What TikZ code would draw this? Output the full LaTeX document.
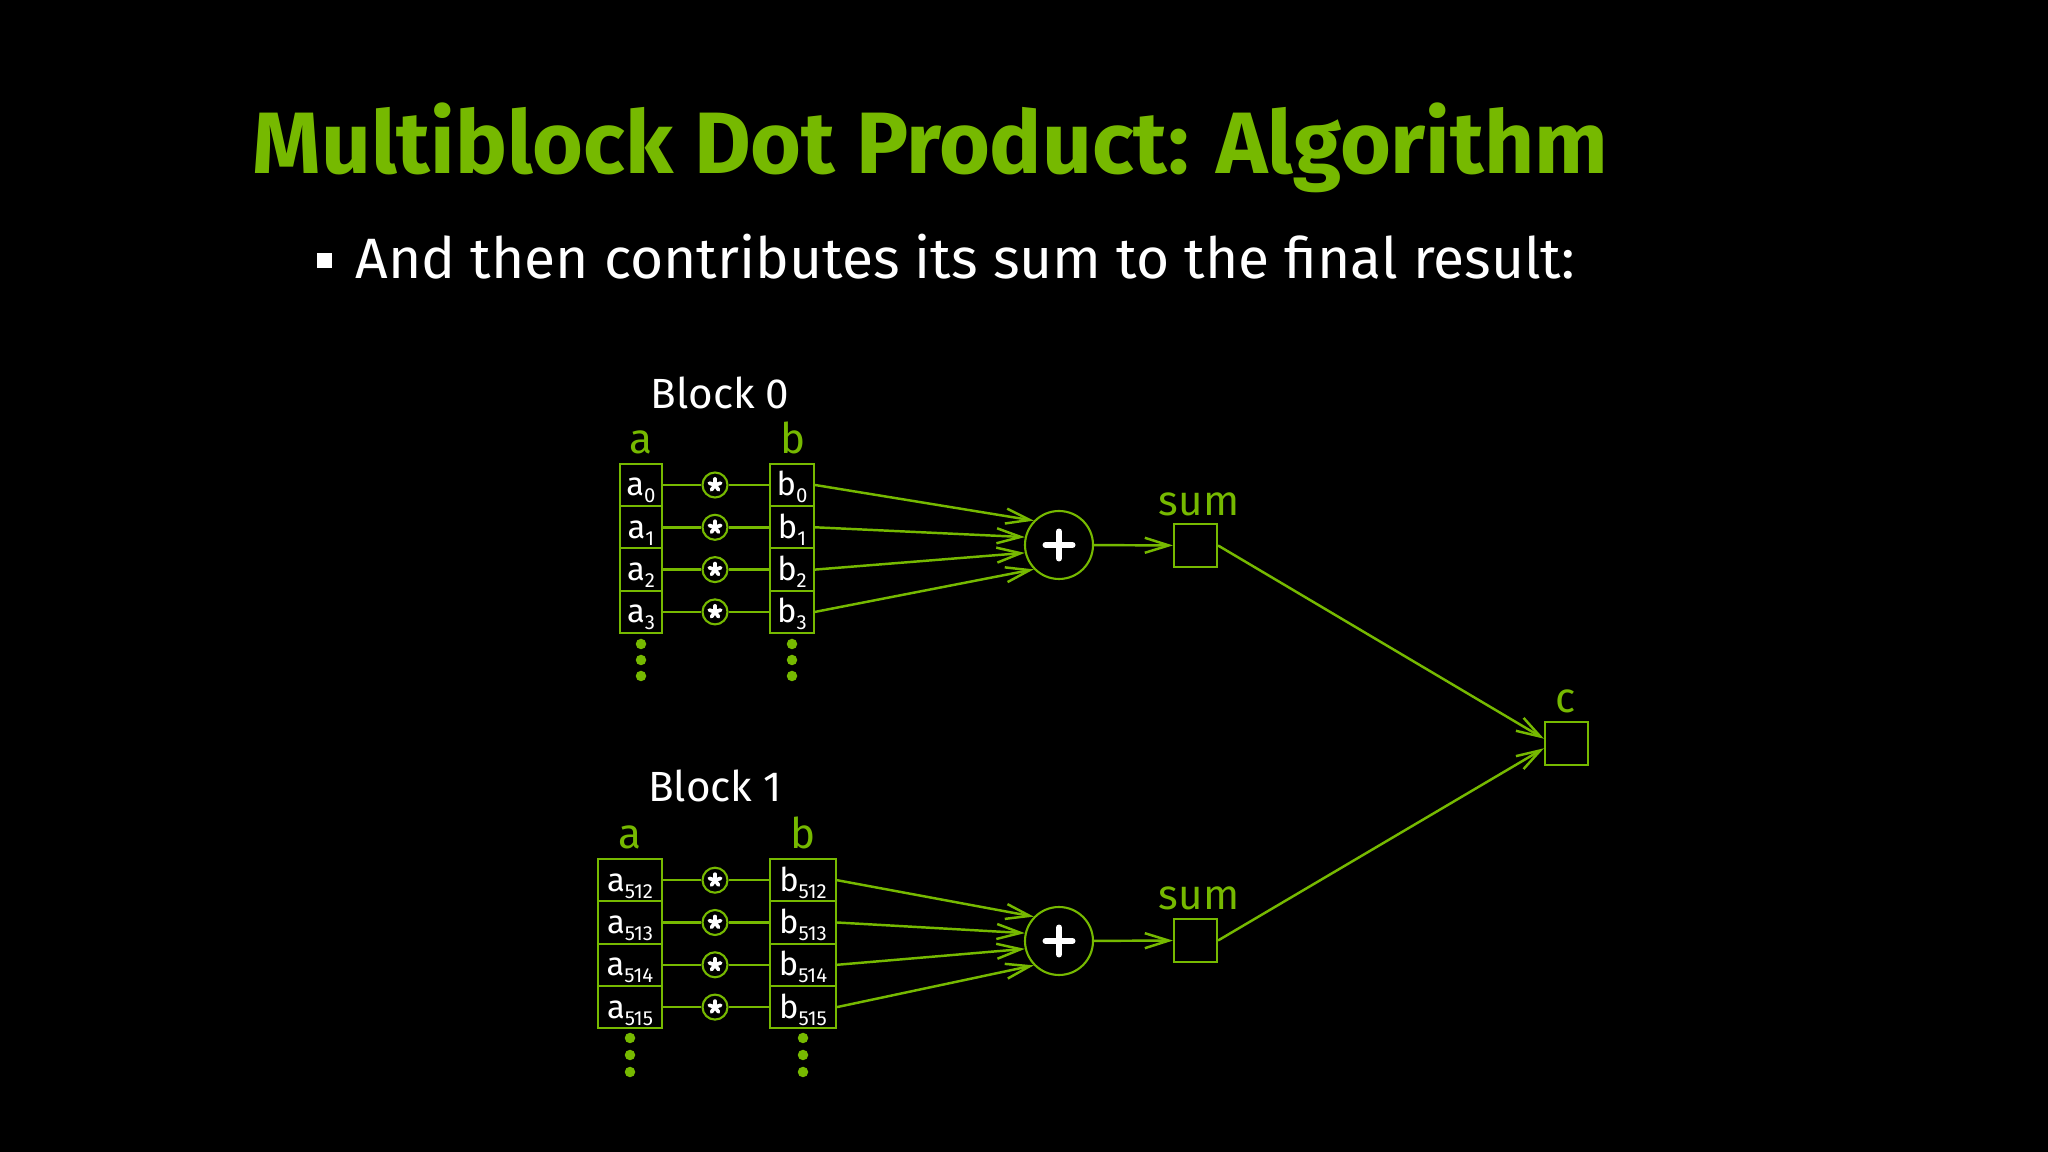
\documentclass[tikz,border=0pt]{standalone}
\usepackage{fontspec}
\setmainfont{Fira Sans}
\usetikzlibrary{arrows.meta}
\definecolor{nvgreen}{HTML}{76B900}
\newcommand\sbs[1]{\raisebox{-0.7mm}{\fontsize{5.8pt}{6pt}\selectfont #1}}
\tikzset{
  cell/.style={draw=nvgreen, line width=0.6pt, minimum height=4.23mm, inner sep=0pt, text=white,
    font=\fontsize{9.3pt}{10pt}\selectfont, text height=2.4mm, text depth=0.2mm},
  cellS/.style={cell, minimum width=4.2mm},
  cellSb/.style={cell, minimum width=4.4mm},
  cellL/.style={cell, minimum width=6.4mm},
  cellLb/.style={cell, minimum width=6.6mm},
  starnode/.style={circle, draw=nvgreen, line width=0.6pt, minimum size=2.5mm, inner sep=0pt},
  plusnode/.style={circle, draw=nvgreen, line width=0.6pt, minimum size=6.8mm, inner sep=0pt},
  box/.style={draw=nvgreen, line width=0.6pt, minimum size=4.3mm, inner sep=0pt},
  link/.style={nvgreen, line width=0.7pt},
  arr/.style={link, -{Straight Barb[length=2.4mm,width=1.5mm]}},
  lab/.style={anchor=base, inner sep=0pt, font=\fontsize{12pt}{14pt}\selectfont},
  grlab/.style={lab, text=nvgreen},
  whlab/.style={lab, text=white},
  vdot/.style={circle, fill=nvgreen, minimum size=1.05mm, inner sep=0pt},
  plusmark/.style={white, line width=1.7pt, line cap=round},
  starmark/.style={white, line width=1.05pt, line cap=round},
}
\begin{document}
\begin{tikzpicture}[x=0.1mm, y=-0.1mm]
\fill[black] (0,0) rectangle (2048,1152);
\useasboundingbox (0,0) rectangle (2048,1152);

% title
\node[anchor=base west, inner sep=0pt, text=nvgreen, font=\fontsize{24.8pt}{30pt}\selectfont\bfseries] (title) at (252,174) {Multiblock Dot Product: Algorithm};
\node[fill=white, minimum size=1.5mm, inner sep=0pt] (bul) at (324,260.5) {};
\node[anchor=base west, inner sep=0pt, text=white, font=\fontsize{16.2pt}{19pt}\selectfont] (sub) at (355,279) {And then contributes its sum to the final result:};

% ---------- Block 0 ----------
\node[whlab] (blk0) at (720,409) {Block 0};
\node[grlab] (la0) at (641,454) {a};
\node[grlab] (lb0) at (793,454) {b};
\node[plusnode] (p0) at (1059,545) {};
\draw[plusmark] ([xshift=-1.35mm]p0.center) -- ([xshift=1.35mm]p0.center);
\draw[plusmark] ([yshift=-1.35mm]p0.center) -- ([yshift=1.35mm]p0.center);
\foreach \i/\y/\ang in {0/485/136, 1/527.3/167, 2/569.6/193, 3/611.9/224}{
  \node[cellS] (a0\i) at (641,\y) {a\sbs{\i}};
  \node[cellSb] (b0\i) at (792,\y) {b\sbs{\i}};
  \node[starnode] (s0\i) at (715,\y) {};
  \foreach \t in {90,162,234,306,18}{\draw[starmark] (s0\i.center) -- ++(\t:0.6mm);}
  \draw[link] (a0\i) -- (s0\i);
  \draw[link] (s0\i) -- (b0\i);
  \draw[arr] (b0\i.east) -- (p0.\ang);
}
\foreach \k/\y in {1/644, 2/660, 3/676}{
  \node[vdot] (da0\k) at (641,\y) {};
  \node[vdot] (db0\k) at (792,\y) {};
}
\node[box] (sum0) at (1195.5,545.5) {};
\node[grlab] (lsum0) at (1199,516) {sum};
\draw[arr] (p0) -- (sum0);

% ---------- Block 1 ----------
\node[whlab] (blk1) at (715,802) {Block 1};
\node[grlab] (la1) at (630,849) {a};
\node[grlab] (lb1) at (803,849) {b};
\node[plusnode] (p1) at (1059,941) {};
\draw[plusmark] ([xshift=-1.35mm]p1.center) -- ([xshift=1.35mm]p1.center);
\draw[plusmark] ([yshift=-1.35mm]p1.center) -- ([yshift=1.35mm]p1.center);
\foreach \i/\n/\y/\ang in {0/512/880.2/136, 1/513/922.5/167, 2/514/964.8/193, 3/515/1007.1/224}{
  \node[cellL] (a1\i) at (630,\y) {a\sbs{\n}};
  \node[cellLb] (b1\i) at (803,\y) {b\sbs{\n}};
  \node[starnode] (s1\i) at (715,\y) {};
  \foreach \t in {90,162,234,306,18}{\draw[starmark] (s1\i.center) -- ++(\t:0.6mm);}
  \draw[link] (a1\i) -- (s1\i);
  \draw[link] (s1\i) -- (b1\i);
  \draw[arr] (b1\i.east) -- (p1.\ang);
}
\foreach \k/\y in {1/1038, 2/1055, 3/1072}{
  \node[vdot] (da1\k) at (630,\y) {};
  \node[vdot] (db1\k) at (803,\y) {};
}
\node[box] (sum1) at (1195.5,940.5) {};
\node[grlab] (lsum1) at (1199,910) {sum};
\draw[arr] (p1) -- (sum1);

% ---------- result ----------
\node[box] (c) at (1566.5,743.5) {};
\node[grlab] (lc) at (1566,713) {c};
\draw[arr] (sum0.east) -- (c.168);
\draw[arr] (sum1.east) -- (c.192);
\end{tikzpicture}
\end{document}
